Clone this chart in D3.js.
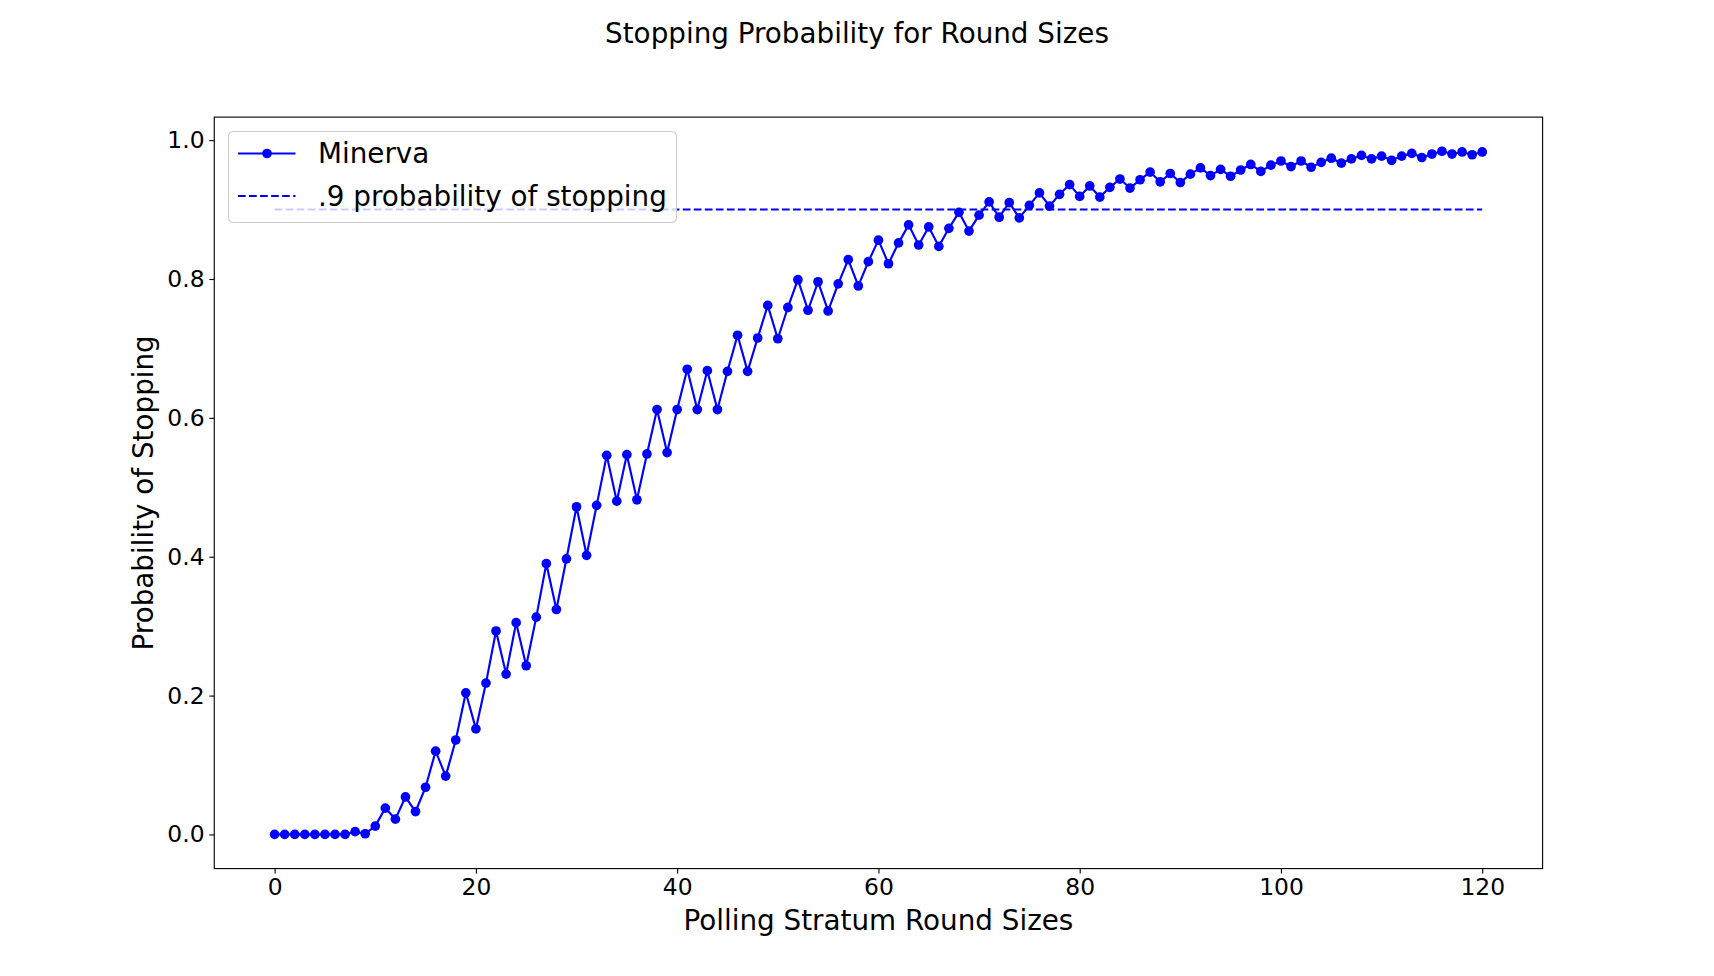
<!DOCTYPE html>
<html>
<head>
<meta charset="utf-8">
<script src="https://cdn.jsdelivr.net/npm/d3@7"></script>
<style>
  html, body { margin: 0; padding: 0; background: #fff; }
  svg { display: block; font-family: "DejaVu Sans", sans-serif; }
</style>
</head>
<body>
<svg id="chart" width="1714" height="976"></svg>
<script>
// ---- Data ----
const titleText = "Stopping Probability for Round Sizes";
const xLabel = "Polling Stratum Round Sizes";
const yLabel = "Probability of Stopping";
const seriesName = "Minerva";
const thresholdName = ".9 probability of stopping";
const threshold = 0.9;

const roundSizes = d3.range(0, 121); // 0..120 round sizes on x axis
const minervaProb = [
  0, 0, 0, 0, 0, 0, 0, 0, 0.004, 0.001,
  0.012, 0.038, 0.022, 0.054, 0.033, 0.068, 0.120, 0.084, 0.136, 0.204,
  0.152, 0.218, 0.293, 0.231, 0.305, 0.243, 0.313, 0.390, 0.324, 0.397,
  0.472, 0.402, 0.474, 0.546, 0.480, 0.547, 0.482, 0.548, 0.612, 0.550,
  0.612, 0.670, 0.612, 0.668, 0.612, 0.667, 0.719, 0.667, 0.715, 0.762,
  0.714, 0.759, 0.799, 0.755, 0.796, 0.754, 0.793, 0.828, 0.790, 0.825,
  0.856, 0.822, 0.852, 0.878, 0.849, 0.875, 0.847, 0.873, 0.896, 0.869,
  0.892, 0.911, 0.889, 0.910, 0.888, 0.906, 0.924, 0.905, 0.922, 0.936,
  0.919, 0.934, 0.918, 0.932, 0.944, 0.931, 0.943, 0.954, 0.940, 0.952,
  0.939, 0.951, 0.960, 0.949, 0.958, 0.948, 0.957, 0.965, 0.955, 0.964,
  0.970, 0.962, 0.970, 0.961, 0.968, 0.974, 0.967, 0.973, 0.978, 0.973,
  0.977, 0.971, 0.977, 0.981, 0.975, 0.980, 0.984, 0.980, 0.983, 0.979,
  0.983
];
const xTicks = [0, 20, 40, 60, 80, 100, 120];
const yTicks = [0.0, 0.2, 0.4, 0.6, 0.8, 1.0];

// ---- Layout ----
const W = 1714, H = 976;
const m = { left: 214.25, right: 1542.6, top: 117.1, bottom: 868.6 };
const blue = "#0000ff";
const markerR = 4.85;

const svg = d3.select("#chart");

const xMin = d3.min(roundSizes), xMax = d3.max(roundSizes);
const xPad = (xMax - xMin) * 0.05;
const yMinV = d3.min(minervaProb), yMaxV = d3.max(minervaProb);
const yPad = (yMaxV - yMinV) * 0.05;

const x = d3.scaleLinear().domain([xMin - xPad, xMax + xPad]).range([m.left, m.right]);
const y = d3.scaleLinear().domain([yMinV - yPad, yMaxV + yPad]).range([m.bottom, m.top]);

const data = roundSizes.map((r, i) => ({ x: r, y: minervaProb[i] }));

// Series line
svg.append("path")
  .datum(data)
  .attr("fill", "none")
  .attr("stroke", blue)
  .attr("stroke-width", 2.15)
  .attr("stroke-linejoin", "round")
  .attr("d", d3.line().x(d => x(d.x)).y(d => y(d.y)));

// Markers
svg.append("g").selectAll("circle")
  .data(data).join("circle")
  .attr("cx", d => x(d.x))
  .attr("cy", d => y(d.y))
  .attr("r", markerR)
  .attr("fill", blue);

// Threshold dashed line
svg.append("line")
  .attr("x1", x(xMin)).attr("x2", x(xMax))
  .attr("y1", y(threshold)).attr("y2", y(threshold))
  .attr("stroke", blue)
  .attr("stroke-width", 2.08)
  .attr("stroke-dasharray", "7.7,3.33");

// Axes
const xAxis = d3.axisBottom(x).tickValues(xTicks).tickFormat(d3.format("d"))
  .tickSize(4.86).tickPadding(4.86);
const yAxis = d3.axisLeft(y).tickValues(yTicks).tickFormat(d3.format(".1f"))
  .tickSize(4.86).tickPadding(4.86);

const gx = svg.append("g").attr("transform", `translate(0,${m.bottom})`).call(xAxis);
const gy = svg.append("g").attr("transform", `translate(${m.left},0)`).call(yAxis);
[gx, gy].forEach(g => {
  g.select(".domain").remove();
  g.selectAll(".tick line").attr("stroke", "#000").attr("stroke-width", 1.11);
  g.selectAll(".tick text").attr("fill", "#000")
    .style("font-family", "DejaVu Sans").style("font-size", "23.4px");
});

// Frame
svg.append("rect")
  .attr("x", m.left).attr("y", m.top)
  .attr("width", m.right - m.left).attr("height", m.bottom - m.top)
  .attr("fill", "none").attr("stroke", "#000").attr("stroke-width", 1.11);

// Labels
svg.append("text")
  .attr("x", (m.left + m.right) / 2).attr("y", 920)
  .attr("text-anchor", "middle").attr("dominant-baseline", "central")
  .style("font-size", "27.8px").text(xLabel);

svg.append("text")
  .attr("transform", `translate(143,${(m.top + m.bottom) / 2}) rotate(-90)`)
  .attr("text-anchor", "middle").attr("dominant-baseline", "central")
  .style("font-size", "27.8px").text(yLabel);

svg.append("text")
  .attr("x", W / 2).attr("y", 33)
  .attr("text-anchor", "middle").attr("dominant-baseline", "central")
  .style("font-size", "27.8px").text(titleText);

// Legend
const lg = svg.append("g");
lg.append("rect")
  .attr("x", 228.5).attr("y", 131.5).attr("width", 448).attr("height", 91)
  .attr("rx", 5).attr("ry", 5)
  .attr("fill", "#fff").attr("fill-opacity", 0.8)
  .attr("stroke", "#cccccc").attr("stroke-width", 1.1);

const legendItems = [
  { label: seriesName, dashed: false, marker: true, cy: 153.5 },
  { label: thresholdName, dashed: true, marker: false, cy: 196 }
];
legendItems.forEach(it => {
  lg.append("line")
    .attr("x1", 238).attr("x2", 295.5)
    .attr("y1", it.cy).attr("y2", it.cy)
    .attr("stroke", blue).attr("stroke-width", 2.08)
    .attr("stroke-dasharray", it.dashed ? "7.7,3.33" : null);
  if (it.marker) {
    lg.append("circle").attr("cx", 267).attr("cy", it.cy).attr("r", markerR).attr("fill", blue);
  }
  lg.append("text")
    .attr("x", 318).attr("y", it.cy)
    .attr("dominant-baseline", "central")
    .style("font-size", "27.8px").text(it.label);
});
</script>
</body>
</html>
